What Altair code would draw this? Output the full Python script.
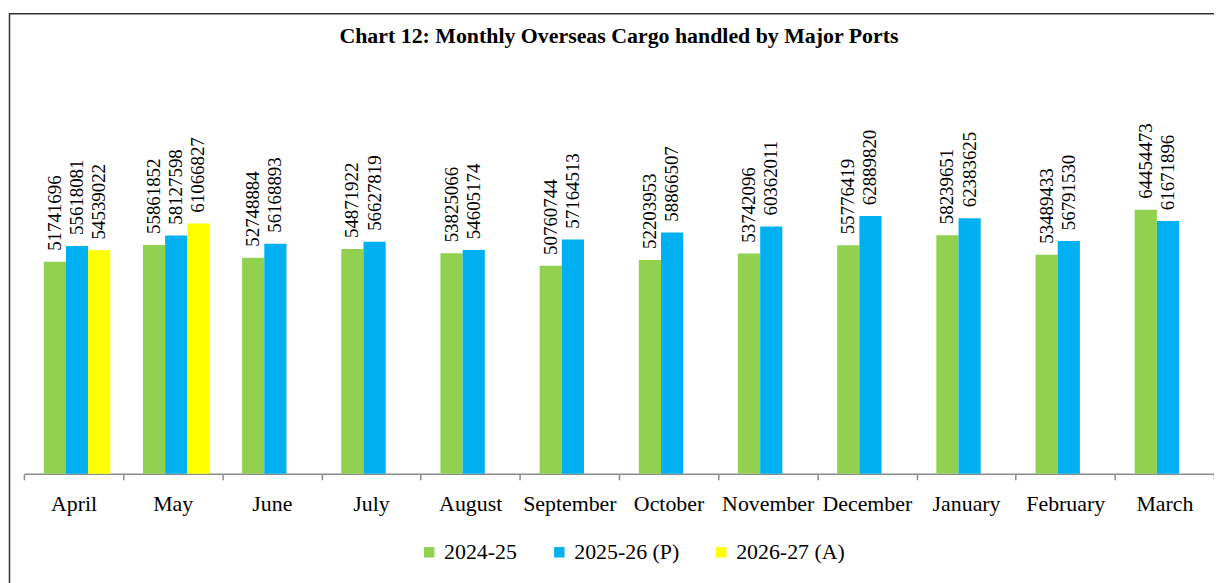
import altair as alt
import pandas as pd

months = ["April", "May", "June", "July", "August", "September", "October",
          "November", "December", "January", "February", "March"]
series = ["2024-25", "2025-26 (P)", "2026-27 (A)"]
cargo_2024_25 = [51741696, 55861852, 52748884, 54871922, 53825066, 50760744,
                 52203953, 53742096, 55776419, 58239651, 53489433, 64454473]
cargo_2025_26 = [55618081, 58127598, 56168893, 56627819, 54605174, 57164513,
                 58866507, 60362011, 62889820, 62383625, 56791530, 61671896]
cargo_2026_27 = [54539022, 61066827]
colors = ["#92D050", "#00B0F0", "#FFFF00"]

rows = []
for s, vals in zip(series, [cargo_2024_25, cargo_2025_26, cargo_2026_27]):
    for m, v in zip(months, vals):
        rows.append({"month": m, "series": s, "value": v})
df = pd.DataFrame(rows)

W, H = 1198, 330

x = alt.X("month:N", sort=months,
          scale=alt.Scale(paddingInner=0, paddingOuter=0),
          axis=alt.Axis(title=None, labelAngle=0, labelFont="Liberation Serif",
                        labelFontSize=22, labelColor="black",
                        domainColor="#8c8c8c", domainWidth=1.5,
                        tickColor="#8c8c8c", tickWidth=1.5, tickSize=6,
                        tickBand="extent", labelPadding=14))
xo = alt.XOffset("series:N", sort=series,
                 scale=alt.Scale(domain=series, paddingInner=0, paddingOuter=0,
                                 range=[20, 87]))
y = alt.Y("value:Q", scale=alt.Scale(domain=[0, 80000000], nice=False, zero=True),
          axis=None)

bars = alt.Chart(df).mark_bar().encode(
    x=x, xOffset=xo, y=y,
    color=alt.Color("series:N", sort=series,
                    scale=alt.Scale(domain=series, range=colors),
                    legend=alt.Legend(title=None, orient="none", legendX=397, legendY=398,
                                      direction="horizontal", symbolType="square",
                                      symbolSize=110, symbolStrokeWidth=0,
                                      labelFont="Liberation Serif", labelFontSize=22,
                                      labelColor="black", labelOffset=4,
                                      columnPadding=31))
)

labels = alt.Chart(df).mark_text(
    angle=270, align="left", baseline="middle", dx=11,
    font="Liberation Sans Narrow", fontSize=19, color="black"
).encode(x=x, xOffset=xo, y=y, text=alt.Text("value:Q", format="d"))

frame = alt.Chart(pd.DataFrame({"f": [0]})).mark_rect(
    filled=False, stroke="#333333", strokeWidth=1.5
).encode(x=alt.value(-14.5), x2=alt.value(1400), y=alt.value(-133), y2=alt.value(800))

chart = alt.layer(frame, bars, labels).properties(
    width=W, height=H,
    title=alt.TitleParams("Chart 12: Monthly Overseas Cargo handled by Major Ports",
                          font="Liberation Serif", fontSize=22, fontWeight="bold",
                          color="black", anchor="middle", frame="group", offset=-35),
    autosize=alt.AutoSizeParams(type="none"),
    padding={"left": 16, "top": 137, "right": 0, "bottom": 108},
    background="white",
).configure_view(strokeWidth=0, stroke=None)

chart.save("out.html", embed_options={"renderer": "svg", "actions": False})
